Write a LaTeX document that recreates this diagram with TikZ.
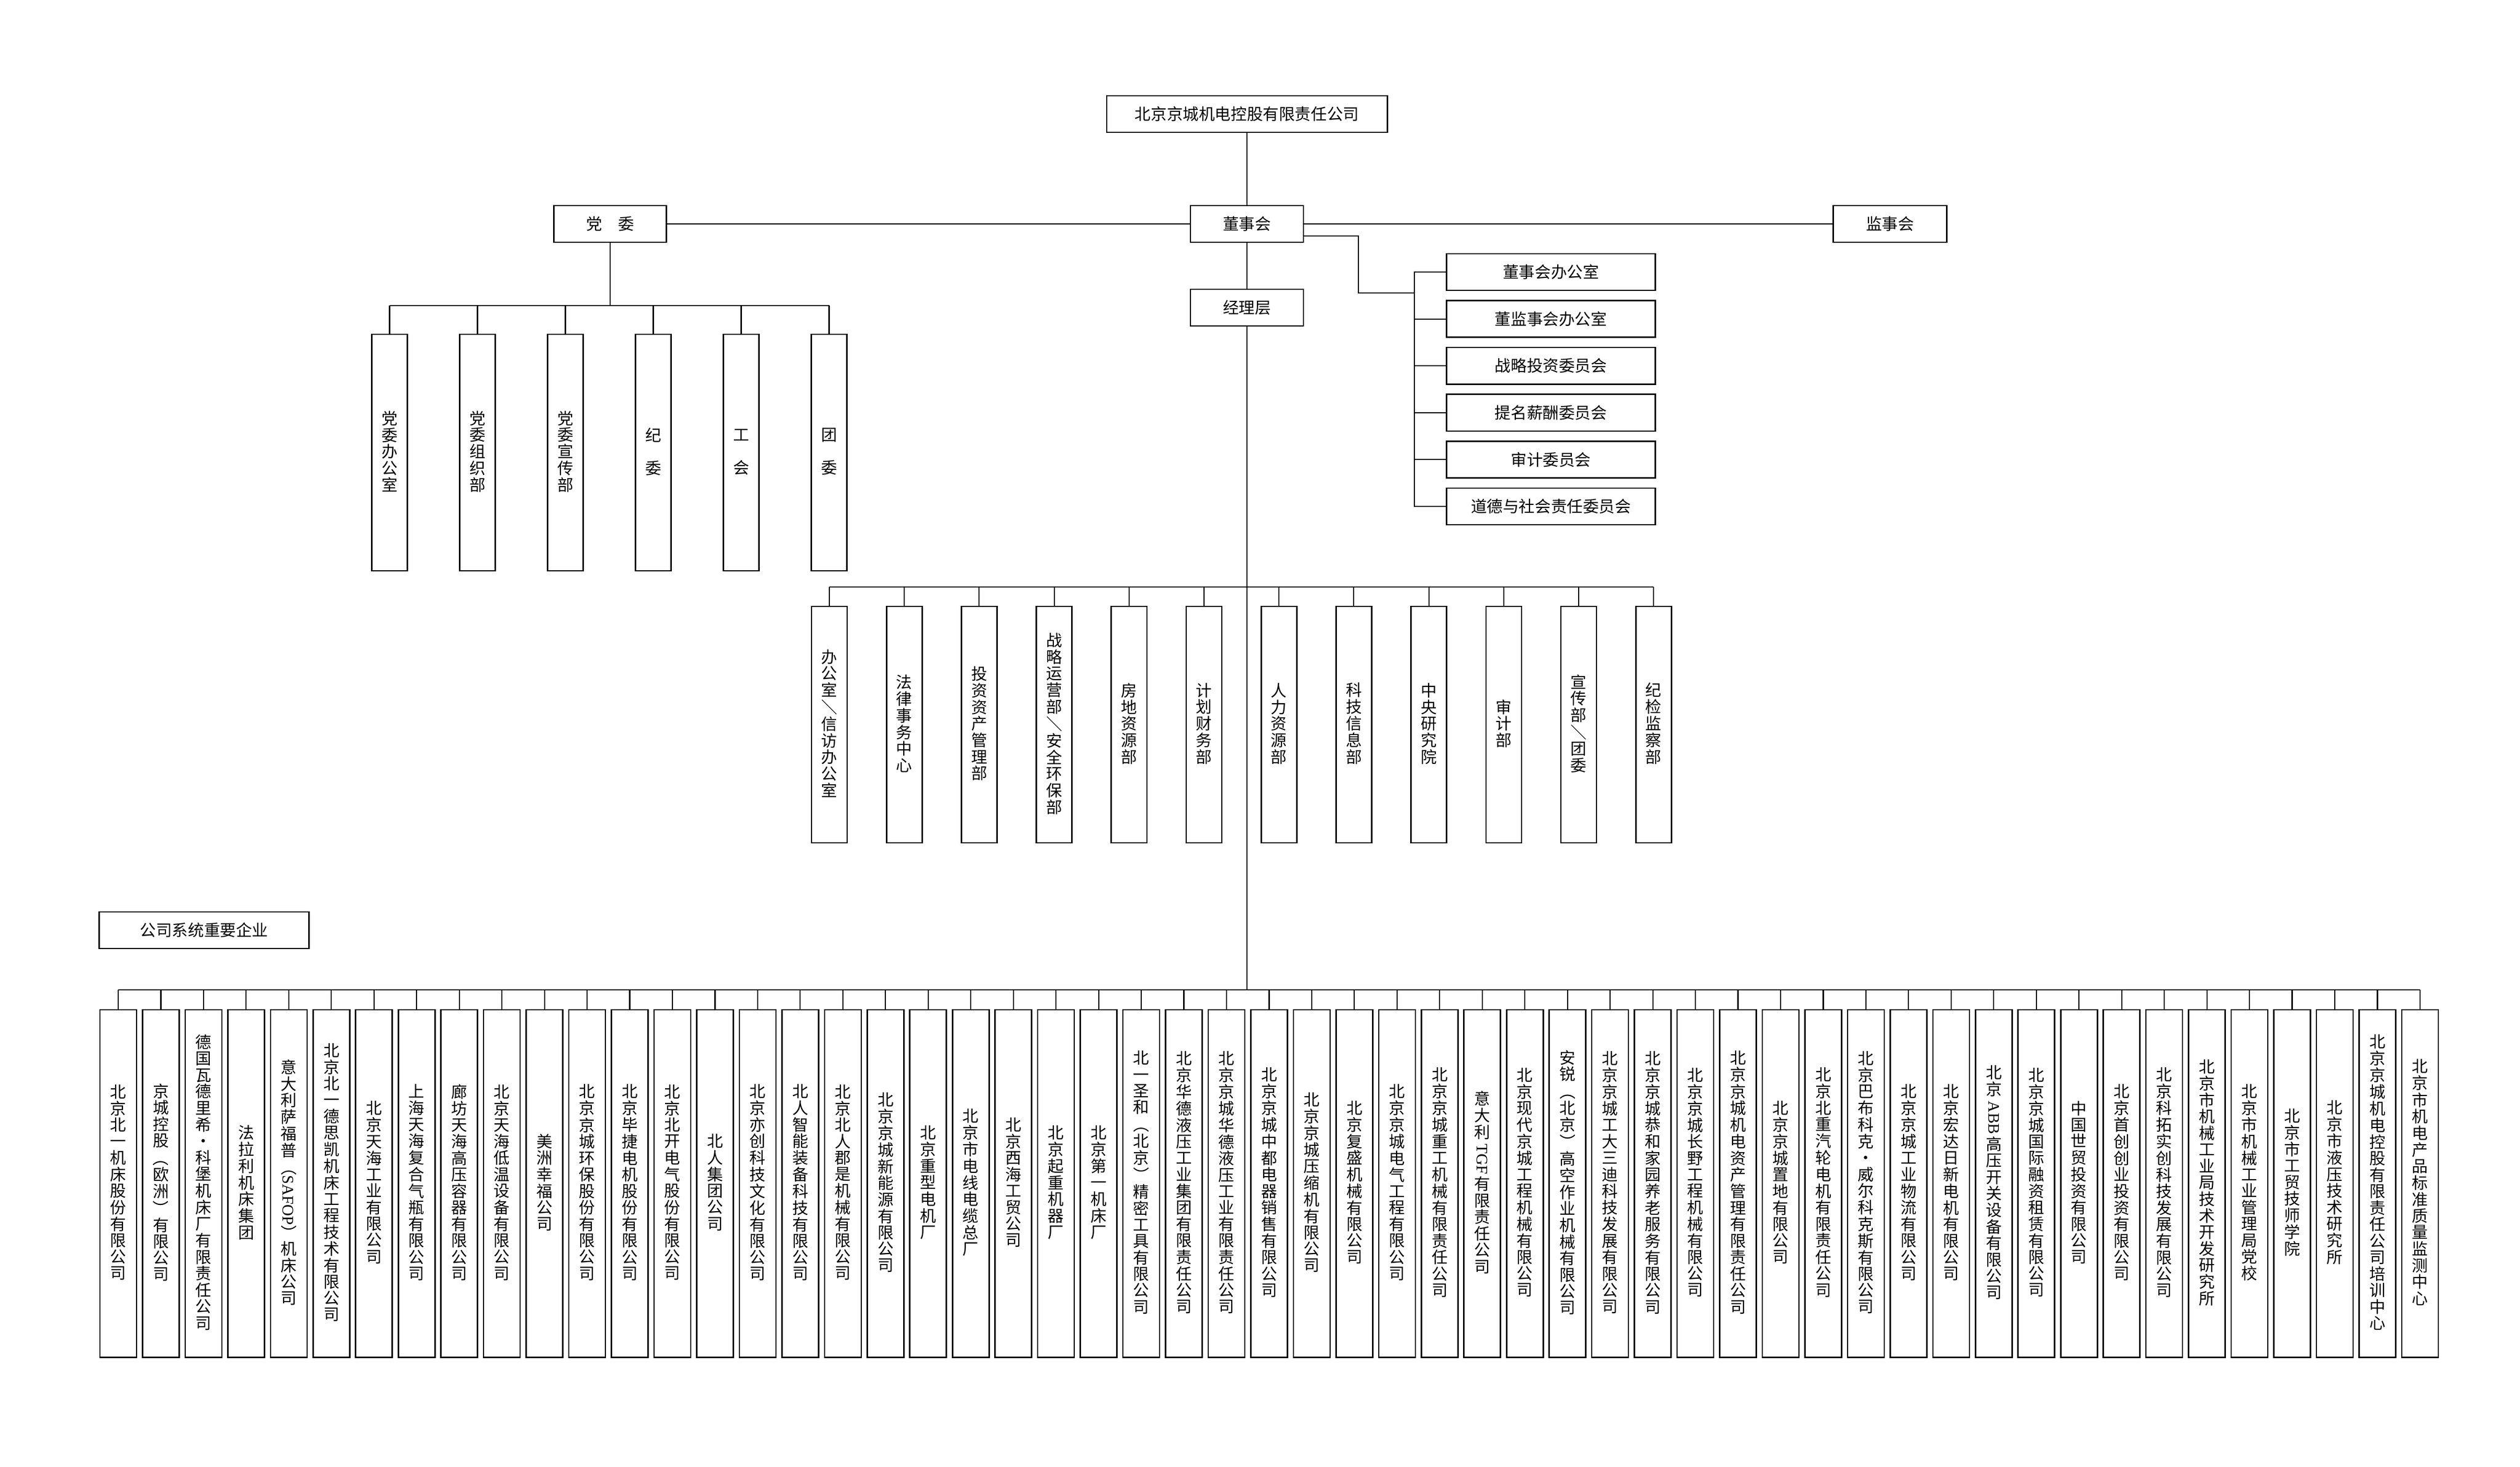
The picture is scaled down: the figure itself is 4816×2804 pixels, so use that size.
\documentclass[tikz,border=0pt]{standalone}
\usepackage{fontspec}
\usepackage{graphicx}
\setmainfont{Noto Sans CJK SC}
\newfontfamily\lat{Liberation Serif}
\usetikzlibrary{calc}

\def\vtend{vtend}
\newcommand\rb[1]{\rotatebox[origin=c]{-90}{#1}}
\def\vtloop#1{\ifx\vtend#1\else\hbox to 1em{\hss\vrule height .82em depth .2em width 0pt #1\hss}\expandafter\vtloop\fi}
\newcommand\vtbox[1]{\vbox{\baselineskip=0pt\lineskip=0pt\lineskiplimit=\maxdimen\vtloop#1\vtend}}
\newcommand\vt[1]{\expandafter\vtbox\expandafter{#1}}

\begin{document}
\begin{tikzpicture}[x=0.01cm,y=-0.01cm]
  \tikzset{ hb/.style={draw,line width=0.75pt,inner sep=0pt,minimum height=0.7cm,font=\fontsize{8.7pt}{10pt}\selectfont},
    vb/.style={draw,line width=0.75pt,inner sep=0pt,minimum width=0.68cm,font=\fontsize{8.7pt}{10pt}\selectfont},
    link/.style={line width=0.6pt},
  }
  \useasboundingbox (0,0) rectangle (4816,2804);

  \node[hb,minimum width=5.36cm] (top) at (2383,218) {北京京城机电控股有限责任公司};
  \node[hb,minimum width=2.16cm] (dsh) at (2383,428) {董事会};
  \node[hb,minimum width=2.15cm] (dw) at (1166,428) {党　委};
  \node[hb,minimum width=2.17cm] (jsh) at (3612,428) {监事会};
  \node[hb,minimum width=2.16cm] (jlc) at (2383,588) {经理层};
  \node[hb,minimum width=4.01cm] (lab) at (390,1778) {公司系统重要企业};

  \foreach \t [count=\i] in {董事会办公室,董监事会办公室,战略投资委员会,提名薪酬委员会,审计委员会,道德与社会责任委员会}
    \node[hb,minimum width=3.99cm] (c\i) at (2964,{520+89.6*(\i-1)}) {\t};

  \foreach \t [count=\i] in {党委办公室,党委组织部,党委宣传部,纪　委,工　会,团　委}
    \node[vb,minimum height=4.52cm] (p\i) at ({744.5+168*(\i-1)},865) {\vt{\t}};

  \foreach \t [count=\i] in {办公室{\rb{／}}信访办公室,法律事务中心,投资资产管理部,战略运营部{\rb{／}}安全环保部,
    房地资源部,计划财务部,人力资源部,科技信息部,中央研究院,审计部,宣传部{\rb{／}}团委,纪检监察部}
    \node[vb,minimum height=4.52cm] (d\i) at ({1585+143.2*(\i-1)},1385) {\vt{\t}};

  \foreach \t [count=\i] in {北京北一机床股份有限公司,京城控股{\rb{（}}欧洲{\rb{）}}有限公司,
    德国瓦德里希·科堡机床厂有限责任公司,法拉利机床集团,意大利萨福普{\rb{（{\lat SAFOP}）}}机床公司,
    北京北一德思凯机床工程技术有限公司,北京天海工业有限公司,上海天海复合气瓶有限公司,
    廊坊天海高压容器有限公司,北京天海低温设备有限公司,美洲幸福公司,北京京城环保股份有限公司,
    北京毕捷电机股份有限公司,北京北开电气股份有限公司,北人集团公司,北京亦创科技文化有限公司,
    北人智能装备科技有限公司,北京北人郡是机械有限公司,北京京城新能源有限公司,北京重型电机厂,
    北京市电线电缆总厂,北京西海工贸公司,北京起重机器厂,北京第一机床厂,
    北一圣和{\rb{（}}北京{\rb{）}}精密工具有限公司,北京华德液压工业集团有限责任公司,
    北京京城华德液压工业有限责任公司,北京京城中都电器销售有限公司,北京京城压缩机有限公司,
    北京复盛机械有限公司,北京京城电气工程有限公司,北京京城重工机械有限责任公司,
    意大利{\rb{\lat\,TGF\,}}有限责任公司,北京现代京城工程机械有限公司,
    安锐{\rb{（}}北京{\rb{）}}高空作业机械有限公司,北京京城工大三迪科技发展有限公司,
    北京京城恭和家园养老服务有限公司,北京京城长野工程机械有限公司,北京京城机电资产管理有限责任公司,
    北京京城置地有限公司,北京北重汽轮电机有限责任公司,北京巴布科克·威尔科克斯有限公司,
    北京京城工业物流有限公司,北京宏达日新电机有限公司,北京{\rb{\lat\,ABB\,}}高压开关设备有限公司,
    北京京城国际融资租赁有限公司,中国世贸投资有限公司,北京首创创业投资有限公司,
    北京科拓实创科技发展有限公司,北京市机械工业局技术开发研究所,北京市机械工业管理局党校,
    北京市工贸技师学院,北京市液压技术研究所,北京京城机电控股有限责任公司培训中心,
    北京市机电产品标准质量监测中心}
    \node[vb,minimum width=0.7cm,minimum height=6.64cm] (e\i) at ({226+81.46*(\i-1)},2262) {\vt{\t}};

  \coordinate (ct) at (2703,560);
  \coordinate (pb) at (1166,584);
  \coordinate (db) at (2383,1122);
  \coordinate (eb) at (2383,1892);

  \draw[link] (top) -- (dsh);
  \draw[link] (dw) -- (dsh);
  \draw[link] (dsh) -- (jsh);
  \draw[link] (dsh) -- (jlc);
  \draw[link] ($(dsh.east)+(0,23)$) -- ++(104,0) |- (ct);
  \draw[link] (c1.west) -- (c1.west -| ct) -- (c6.west -| ct) -- (c6.west);
  \foreach \i in {2,...,5}
    \draw[link] (c\i.west) -- (c\i.west -| ct);

  \draw[link] (dw) -- (pb);
  \draw[link] (p1.north |- pb) -- (p6.north |- pb);
  \foreach \i in {1,...,6}
    \draw[link] (p\i) -- (p\i.north |- pb);

  \draw[link] (jlc) -- (eb);
  \draw[link] (d1.north |- db) -- (d12.north |- db);
  \foreach \i in {1,...,12}
    \draw[link] (d\i) -- (d\i.north |- db);

  \draw[link] (e1.north |- eb) -- (e55.north |- eb);
  \foreach \i in {1,...,55}
    \draw[link] (e\i) -- (e\i.north |- eb);
\end{tikzpicture}
\end{document}
